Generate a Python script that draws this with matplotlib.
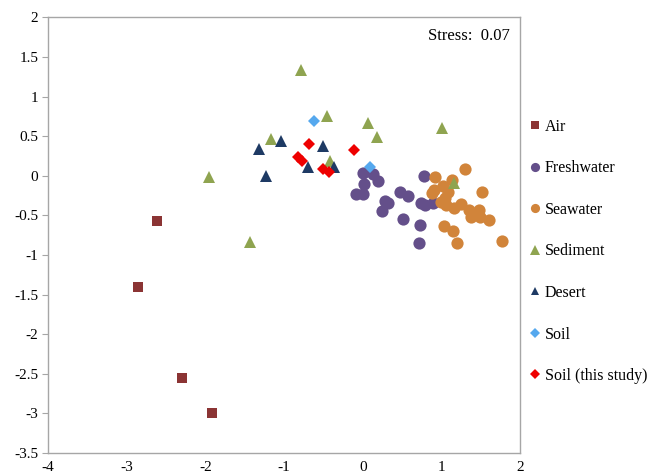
import matplotlib
matplotlib.use("Agg")
import matplotlib.pyplot as plt

plt.rcParams["font.family"] = ["Liberation Serif", "DejaVu Serif"]
plt.rcParams["axes.unicode_minus"] = False

# ---------- NMDS coordinates ----------
air_x = [-2.61, -2.85, -2.30, -1.92]
air_y = [-0.57, -1.41, -2.55, -3.00]

fresh_x = [0.00, 0.13, 0.19, 0.02, -0.08, 0.00, 0.28, 0.32, 0.25, 0.47,
           0.57, 0.51, 0.74, 0.79, 0.89, 0.73, 0.72, 0.78]
fresh_y = [0.03, 0.02, -0.07, -0.11, -0.23, -0.23, -0.32, -0.34, -0.45, -0.20,
           -0.26, -0.54, -0.35, -0.37, -0.35, -0.62, -0.85, 0.00]

sea_x = [1.30, 0.92, 1.13, 1.02, 0.91, 0.88, 1.51, 1.04, 0.99, 1.06, 1.16,
         1.25, 1.35, 1.48, 1.38, 1.49, 1.61, 1.03, 1.15, 1.20, 1.77, 1.08]
sea_y = [0.09, -0.01, -0.05, -0.13, -0.18, -0.22, -0.20, -0.28, -0.33, -0.37, -0.41,
         -0.36, -0.43, -0.43, -0.52, -0.52, -0.56, -0.63, -0.70, -0.85, -0.82, -0.20]

sed_x = [-0.79, -1.17, -1.95, -1.43, -0.45, 0.07, 0.18, -0.42, 1.16, 1.01]
sed_y = [1.33, 0.46, -0.01, -0.84, 0.75, 0.66, 0.49, 0.18, -0.09, 0.60]

desert_x = [-1.04, -1.32, -1.23, -0.51, -0.70, -0.37]
desert_y = [0.44, 0.34, 0.00, 0.37, 0.11, 0.11]

soil_x = [-0.62, 0.09]
soil_y = [0.69, 0.11]

study_x = [-0.68, -0.11, -0.82, -0.77, -0.51, -0.43]
study_y = [0.40, 0.32, 0.24, 0.18, 0.09, 0.05]

STRESS = 0.07

# (label, x, y, marker, size, color)
groups = [
    ("Air", air_x, air_y, "s", 7.8, "#8B3434"),
    ("Freshwater", fresh_x, fresh_y, "o", 8.8, "#644F8A"),
    ("Seawater", sea_x, sea_y, "o", 8.8, "#D1843A"),
    ("Sediment", sed_x, sed_y, "^", 9, "#8FA450"),
    ("Desert", desert_x, desert_y, "^", 8.5, "#1E3A64"),
    ("Soil", soil_x, soil_y, "D", 6.3, "#55A8EE"),
    ("Soil (this study)", study_x, study_y, "D", 6.3, "#EE0000"),
]

fig = plt.figure(figsize=(6.51, 4.76), dpi=100)
ax = fig.add_axes([0.0737, 0.0483, 0.7253, 0.9154])

handles = []
for label, xs, ys, mk, ms, col in groups:
    ax.plot(xs, ys, linestyle="none", marker=mk, markersize=ms,
            color=col, markeredgewidth=0, zorder=3)
    handles.append(plt.Line2D([0], [0], linestyle="none", marker=mk,
                              markersize=ms * 0.75, color=col,
                              markeredgewidth=0, label=label))

ax.set_xlim(-4, 2)
ax.set_ylim(-3.5, 2)
ax.set_xticks([-4, -3, -2, -1, 0, 1, 2])
ax.set_yticks([-3.5, -3, -2.5, -2, -1.5, -1, -0.5, 0, 0.5, 1, 1.5, 2])
ax.set_yticklabels(["-3.5", "-3", "-2.5", "-2", "-1.5", "-1", "-0.5",
                    "0", "0.5", "1", "1.5", "2"])
for sp in ax.spines.values():
    sp.set_color("#a6a6a6")
    sp.set_linewidth(1)
ax.tick_params(axis="y", length=4, color="#a6a6a6", labelsize=11, pad=3)
ax.tick_params(axis="x", length=0, labelsize=11, pad=6)

ax.text(0.978, 0.975, f"Stress:  {STRESS:.2f}", transform=ax.transAxes,
        ha="right", va="top", fontsize=12)

fig.legend(handles=handles, loc="upper left", bbox_to_anchor=(0.805, 0.764),
           frameon=False, fontsize=11.5, labelspacing=1.6, handlelength=0.6,
           handletextpad=0.3, borderaxespad=0)

fig.savefig("out.png", dpi=100, facecolor="white")
